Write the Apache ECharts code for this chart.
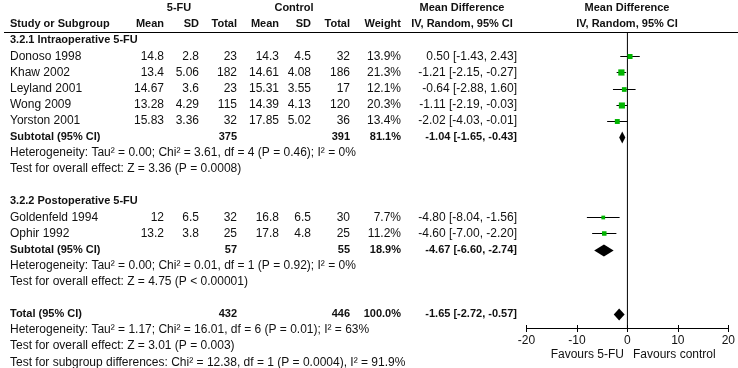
<!DOCTYPE html>
<html>
<head>
<meta charset="utf-8">
<script src="https://cdn.jsdelivr.net/npm/echarts@6/dist/echarts.min.js"></script>
<style>
html, body { margin: 0; padding: 0; background: #fff; }
#chart { width: 738px; height: 368px; }
</style>
</head>
<body>
<div id="chart"></div>
<script>
// ---- data ----
const studies = ['Donoso 1998', 'Khaw 2002', 'Leyland 2001', 'Wong 2009', 'Yorston 2001', 'Goldenfeld 1994', 'Ophir 1992'];
const studyGroup = [0, 0, 0, 0, 0, 1, 1];
const fuMean = [14.8, 13.4, 14.67, 13.28, 15.83, 12, 13.2];
const fuSD = [2.8, 5.06, 3.6, 4.29, 3.36, 6.5, 3.8];
const fuTotal = [23, 182, 23, 115, 32, 32, 25];
const ctlMean = [14.3, 14.61, 15.31, 14.39, 17.85, 16.8, 17.8];
const ctlSD = [4.5, 4.08, 3.55, 4.13, 5.02, 6.5, 4.8];
const ctlTotal = [32, 186, 17, 120, 36, 30, 25];
const weight = [13.9, 21.3, 12.1, 20.3, 13.4, 7.7, 11.2];
const md = [0.50, -1.21, -0.64, -1.11, -2.02, -4.80, -4.60];
const mdLow = [-1.43, -2.15, -2.88, -2.19, -4.03, -8.04, -7.00];
const mdHigh = [2.43, -0.27, 1.60, -0.03, -0.01, -1.56, -2.20];

const groupNames = ['3.2.1 Intraoperative 5-FU', '3.2.2 Postoperative 5-FU'];
const subFuTotal = [375, 57];
const subCtlTotal = [391, 55];
const subWeight = [81.1, 18.9];
const subMd = [-1.04, -4.67];
const subLow = [-1.65, -6.60];
const subHigh = [-0.43, -2.74];
const subHet = [
  'Heterogeneity: Tau\u00b2 = 0.00; Chi\u00b2 = 3.61, df = 4 (P = 0.46); I\u00b2 = 0%',
  'Heterogeneity: Tau\u00b2 = 0.00; Chi\u00b2 = 0.01, df = 1 (P = 0.92); I\u00b2 = 0%'
];
const subEffect = [
  'Test for overall effect: Z = 3.36 (P = 0.0008)',
  'Test for overall effect: Z = 4.75 (P < 0.00001)'
];

const totFuTotal = 432, totCtlTotal = 446, totWeight = 100.0;
const totMd = -1.65, totLow = -2.72, totHigh = -0.57;
const totNotes = [
  'Heterogeneity: Tau\u00b2 = 1.17; Chi\u00b2 = 16.01, df = 6 (P = 0.01); I\u00b2 = 63%',
  'Test for overall effect: Z = 3.01 (P = 0.003)',
  'Test for subgroup differences: Chi\u00b2 = 12.38, df = 1 (P = 0.0004), I\u00b2 = 91.9%'
];

const xMin = -20, xMax = 20, xStep = 10;
const favourLabels = ['Favours 5-FU', 'Favours control'];

// ---- layout ----
const FONT = '"Liberation Sans", Arial, sans-serif';
const ROW_H = 16.1;
const N_ROWS = 22;
const COL = {
  name: [10, 'left'],
  fuMean: [164, 'right'], fuSD: [199, 'right'], fuTot: [237, 'right'],
  ctlMean: [279, 'right'], ctlSD: [311, 'right'], ctlTot: [350, 'right'],
  weight: [401, 'right'], ci: [517, 'right'],
  fuHead: [179, 'center'], ctlHead: [294, 'center'],
  ciHead: [462, 'center'], plotHead: [627, 'center']
};

const texts = [];
const marks = [];
function put(row, col, text, bold) {
  texts.push({row: row, x: COL[col][0], align: COL[col][1], text: String(text), bold: !!bold});
}
function ciText(m, l, h) {
  return m.toFixed(2) + ' [' + l.toFixed(2) + ', ' + h.toFixed(2) + ']';
}

// header
put(0, 'fuHead', '5-FU', true);
put(0, 'ctlHead', 'Control', true);
put(0, 'ciHead', 'Mean Difference', true);
put(0, 'plotHead', 'Mean Difference', true);
put(1, 'name', 'Study or Subgroup', true);
put(1, 'fuMean', 'Mean', true); put(1, 'fuSD', 'SD', true); put(1, 'fuTot', 'Total', true);
put(1, 'ctlMean', 'Mean', true); put(1, 'ctlSD', 'SD', true); put(1, 'ctlTot', 'Total', true);
put(1, 'weight', 'Weight', true);
put(1, 'ciHead', 'IV, Random, 95% CI', true);
put(1, 'plotHead', 'IV, Random, 95% CI', true);

let r = 2;
groupNames.forEach(function (gName, g) {
  put(r++, 'name', gName, true);
  studies.forEach(function (s, i) {
    if (studyGroup[i] !== g) return;
    put(r, 'name', s);
    put(r, 'fuMean', fuMean[i]); put(r, 'fuSD', fuSD[i]); put(r, 'fuTot', fuTotal[i]);
    put(r, 'ctlMean', ctlMean[i]); put(r, 'ctlSD', ctlSD[i]); put(r, 'ctlTot', ctlTotal[i]);
    put(r, 'weight', weight[i].toFixed(1) + '%');
    put(r, 'ci', ciText(md[i], mdLow[i], mdHigh[i]));
    marks.push([r, mdLow[i], md[i], mdHigh[i], weight[i], 0]);
    r++;
  });
  put(r, 'name', 'Subtotal (95% CI)', true);
  put(r, 'fuTot', subFuTotal[g], true); put(r, 'ctlTot', subCtlTotal[g], true);
  put(r, 'weight', subWeight[g].toFixed(1) + '%', true);
  put(r, 'ci', ciText(subMd[g], subLow[g], subHigh[g]), true);
  marks.push([r, subLow[g], subMd[g], subHigh[g], subWeight[g], 1]);
  r++;
  put(r++, 'name', subHet[g]);
  put(r++, 'name', subEffect[g]);
  r++;
});
put(r, 'name', 'Total (95% CI)', true);
put(r, 'fuTot', totFuTotal, true); put(r, 'ctlTot', totCtlTotal, true);
put(r, 'weight', totWeight.toFixed(1) + '%', true);
put(r, 'ci', ciText(totMd, totLow, totHigh), true);
marks.push([r, totLow, totMd, totHigh, totWeight, 1]);
r++;
totNotes.forEach(function (t) { put(r++, 'name', t); });

const chart = echarts.init(document.getElementById('chart'), null, {renderer: 'canvas'});

const option = {
  animation: false,
  backgroundColor: '#fff',
  grid: [
    {left: 526.5, right: 9.5, top: 8, height: N_ROWS * ROW_H},
    {left: 526.5, right: 9.5, top: 32.5, bottom: 40}
  ],
  xAxis: [
    {gridIndex: 0, type: 'value', min: xMin, max: xMax, show: false},
    {
      gridIndex: 1, type: 'value', min: xMin, max: xMax, interval: xStep, position: 'bottom',
      axisLine: {lineStyle: {color: '#000', width: 1}},
      axisTick: {length: 4, lineStyle: {color: '#000'}},
      axisLabel: {color: '#111', fontSize: 12, fontFamily: FONT, margin: 7},
      splitLine: {show: false}
    },
    {
      gridIndex: 1, type: 'value', min: xMin, max: xMax, interval: xStep, position: 'bottom',
      axisLine: {show: false},
      axisTick: {inside: true, length: 3, lineStyle: {color: '#000'}},
      axisLabel: {show: false},
      splitLine: {show: false}
    }
  ],
  yAxis: [
    {gridIndex: 0, type: 'value', min: 0, max: N_ROWS, inverse: true, show: false},
    {gridIndex: 1, type: 'value', min: 0, max: 1, show: false}
  ],
  graphic: [
    {type: 'line', shape: {x1: 4, y1: 32.5, x2: 738, y2: 32.5}, style: {stroke: '#000', lineWidth: 1}},
    {type: 'text', x: 624, y: 355, style: {text: favourLabels[0], align: 'right', verticalAlign: 'middle', font: '12px ' + FONT, fill: '#111'}},
    {type: 'text', x: 633, y: 355, style: {text: favourLabels[1], align: 'left', verticalAlign: 'middle', font: '12px ' + FONT, fill: '#111'}}
  ],
  series: [
    {
      // table text
      type: 'custom', xAxisIndex: 0, yAxisIndex: 0, clip: false, silent: true,
      data: texts.map(function (t) { return [0, t.row]; }),
      renderItem: function (params, api) {
        const t = texts[params.dataIndex];
        const y = api.coord([0, api.value(1)])[1];
        return {
          type: 'text',
          style: {
            text: t.text, x: t.x, y: y, align: t.align, verticalAlign: 'middle',
            fill: '#111', font: (t.bold ? 'bold 11px ' : '12px ') + FONT
          }
        };
      }
    },
    {
      // zero line
      type: 'custom', xAxisIndex: 1, yAxisIndex: 1, clip: false, silent: true,
      data: [[0]],
      renderItem: function (params, api) {
        const a = api.coord([api.value(0), 0]);
        const b = api.coord([api.value(0), 1]);
        return {type: 'line', shape: {x1: a[0], y1: a[1], x2: b[0], y2: b[1]}, style: {stroke: '#000', lineWidth: 1}};
      }
    },
    {
      // CIs, squares and diamonds
      type: 'custom', xAxisIndex: 0, yAxisIndex: 0, clip: false, silent: true,
      data: marks,
      renderItem: function (params, api) {
        const row = api.value(0);
        const pl = api.coord([api.value(1), row]);
        const pm = api.coord([api.value(2), row]);
        const ph = api.coord([api.value(3), row]);
        const y = Math.round(pm[1]) + 0.5;
        if (api.value(5) === 1) {
          const h = 6;
          return {
            type: 'polygon',
            shape: {points: [[pl[0], y], [pm[0], y - h], [ph[0], y], [pm[0], y + h]]},
            style: {fill: '#000'}
          };
        }
        const s = Math.sqrt(api.value(4)) * 1.35;
        return {
          type: 'group',
          children: [
            {type: 'line', shape: {x1: pl[0], y1: y, x2: ph[0], y2: y}, style: {stroke: '#000', lineWidth: 1}},
            {type: 'rect', shape: {x: pm[0] - s / 2, y: y - s / 2, width: s, height: s}, style: {fill: '#00b400'}}
          ]
        };
      }
    }
  ]
};
chart.setOption(option);
</script>
</body>
</html>
